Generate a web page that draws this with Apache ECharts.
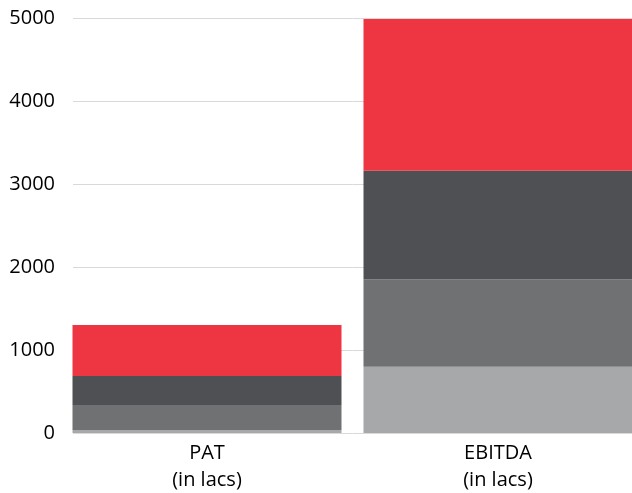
<!DOCTYPE html>
<html>
<head>
<meta charset="utf-8">
<script src="https://cdn.jsdelivr.net/npm/echarts@6/dist/echarts.min.js"></script>
<style>
  html, body { margin: 0; padding: 0; background: #ffffff; }
  #chart { width: 632px; height: 493px; }
</style>
</head>
<body>
<div id="chart"></div>
<script>
// Categories and the unit shown beneath each one
const categories = ['PAT', 'EBITDA'];
const unitLabel = '(in lacs)';

// Stacked segments, bottom to top (in lacs)
const segment1 = [36, 799];
const segment2 = [301, 1053];
const segment3 = [350, 1308];
const segment4 = [614, 1828];

const yTicks = [0, 1000, 2000, 3000, 4000, 5000];
const colors = ['#a7a8aa', '#707173', '#4f5053', '#ee3643'];

const chart = echarts.init(document.getElementById('chart'), null, { renderer: 'canvas' });

const seriesData = [segment1, segment2, segment3, segment4];
const seriesNames = ['Segment 1', 'Segment 2', 'Segment 3', 'Segment 4'];

const font = '"Open Sans", "Noto Sans", sans-serif';

chart.setOption({
  animation: false,
  backgroundColor: '#ffffff',
  grid: [
    // value-axis grid: labels and gridlines
    { left: 73, right: 0, top: 18, bottom: 60, outerBoundsMode: 'none', containLabel: false },
    // bar grid, wider than the canvas so the second bar runs off the right edge
    { left: 61.5, right: -11.5, top: 18, bottom: 60, outerBoundsMode: 'none', containLabel: false }
  ],
  xAxis: [
    { type: 'category', gridIndex: 0, data: categories, show: false },
    {
      type: 'category', gridIndex: 1, data: categories,
      axisLine: { show: false }, axisTick: { show: false },
      axisLabel: {
        margin: 7,
        color: '#000000',
        fontFamily: font,
        fontSize: 20,
        lineHeight: 27,
        formatter: v => v + '\n' + unitLabel
      }
    }
  ],
  yAxis: [
    {
      type: 'value', gridIndex: 0, min: yTicks[0], max: yTicks[yTicks.length - 1], interval: 1000,
      axisLine: { show: false }, axisTick: { show: false },
      axisLabel: { margin: 18, color: '#000000', fontFamily: font, fontSize: 20, formatter: v => String(v) },
      splitLine: { lineStyle: { color: '#d9d9d9', width: 1 } }
    },
    {
      type: 'value', gridIndex: 1, min: yTicks[0], max: yTicks[yTicks.length - 1], interval: 1000,
      show: false, splitLine: { show: false }
    }
  ],
  series: seriesData.map((d, i) => ({
    name: seriesNames[i],
    type: 'bar',
    stack: 'total',
    xAxisIndex: 1,
    yAxisIndex: 1,
    barWidth: 269,
    itemStyle: { color: colors[i] },
    data: d
  }))
});
</script>
</body>
</html>
